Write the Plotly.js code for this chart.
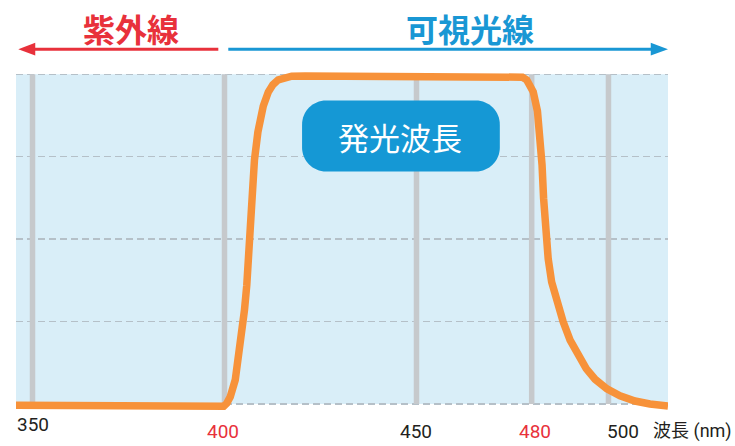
<!DOCTYPE html>
<html>
<head>
<meta charset="utf-8">
<script src="https://cdn.plot.ly/plotly-3.0.1.min.js"></script>
<style>html,body{margin:0;padding:0;background:#fff;}#chart{width:735px;height:446px;}</style>
</head>
<body>
<div id="chart"></div>
<script>
// ---- data ----
const wavelengthNm = [345.7, 367.6, 393.7, 398.9, 399.8, 400.6, 401.5, 402.8, 403.6, 404.5, 405.2, 405.8, 406.3, 406.8, 407.3, 407.8, 408.7, 410.1, 411.4, 412.6, 414.0, 415.5, 417.5, 421.0, 440.0, 460.0, 476.0, 477.6, 478.7, 479.6, 480.4, 481.5, 482.2, 482.7, 483.1, 483.6, 484.3, 485.2, 486.5, 488.2, 490.0, 492.1, 494.2, 496.5, 499.6, 503.0, 506.9, 510.8, 515.5];
const intensity    = [-0.4, -0.6, -0.9, -0.9, -0.7, 0.2, 2.2, 7.3, 13.4, 21.4, 28.5, 36.0, 46.0, 57.0, 66.5, 74.0, 82.5, 90.4, 94.6, 96.8, 98.3, 99.0, 99.4, 99.5, 99.5, 99.5, 99.5, 99.1, 98.3, 96.8, 94.7, 88.8, 80.6, 72.5, 62.4, 52.3, 44.0, 37.0, 31.0, 24.9, 19.4, 14.4, 10.7, 7.5, 4.6, 2.5, 0.9, 0.0, -0.6];
const gridWavelengths = [350, 400, 450, 480, 500];
const tickLabels = ['350', '400', '450', '480', '500'];
const highlightedTicks = ['400', '480'];
const levelTicks = [0, 25, 50, 75, 100];
const uvLabel = '紫外線';
const visibleLabel = '可視光線';
const badgeLabel = '発光波長';
const axisLabel = '波長 (nm)';

// ---- styles ----
const RED = '#e8313b', BLUE = '#1997d4', ORANGE = '#f7923a';
const CJK = '"Noto Sans CJK JP", sans-serif';
const LAT = 'Roboto, "Noto Sans CJK JP", sans-serif';
const xRange = [345.7, 515.5], yRange = [-3.033, 102.5];

const shapes = [];
// light blue background band
shapes.push({type:'rect', xref:'paper', yref:'y', x0:0, x1:1, y0:0, y1:100,
  fillcolor:'#d9eef8', line:{width:0}, layer:'below'});
// vertical gray lines
gridWavelengths.forEach(w => shapes.push({type:'line', xref:'x', yref:'y', x0:w, x1:w, y0:0, y1:100,
  line:{color:'#c6c9cc', width:5.5}, layer:'between'}));
// arrows (paper coords)
shapes.push({type:'line', xref:'paper', yref:'paper', x0:0.026, x1:0.3103, y0:1.0483, y1:1.0483, line:{color:RED, width:3}});
shapes.push({type:'path', xref:'paper', yref:'paper', path:'M0.0035,1.0483 L0.0295,1.0665 L0.0295,1.0301 Z', fillcolor:RED, line:{width:0}});
shapes.push({type:'line', xref:'paper', yref:'paper', x0:0.3256, x1:0.976, y0:1.048, y1:1.048, line:{color:BLUE, width:3}});
shapes.push({type:'path', xref:'paper', yref:'paper', path:'M1.0,1.048 L0.9735,1.0665 L0.9735,1.0301 Z', fillcolor:BLUE, line:{width:0}});
// rounded badge
(function(){
  const x0=420.2, x1=471.7, y0=70.5, y1=92.0, rx=6.25, ry=7.28, k=0.4477;
  const p = `M${x0+rx},${y1} L${x1-rx},${y1} C${x1-rx*k},${y1} ${x1},${y1-ry*k} ${x1},${y1-ry} `+
            `L${x1},${y0+ry} C${x1},${y0+ry*k} ${x1-rx*k},${y0} ${x1-rx},${y0} `+
            `L${x0+rx},${y0} C${x0+rx*k},${y0} ${x0},${y0+ry*k} ${x0},${y0+ry} `+
            `L${x0},${y1-ry} C${x0},${y1-ry*k} ${x0+rx*k},${y1} ${x0+rx},${y1} Z`;
  shapes.push({type:'path', xref:'x', yref:'y', path:p, fillcolor:'#1598d5', line:{width:0}, layer:'above'});
})();

const annotations = [];
annotations.push({xref:'paper', yref:'paper', x:0.1771, y:1.1106, text:uvLabel, showarrow:false,
  xanchor:'center', yanchor:'middle', font:{family:CJK, size:32, weight:'bold', color:RED}});
annotations.push({xref:'paper', yref:'paper', x:0.6963, y:1.1106, text:visibleLabel, showarrow:false,
  xanchor:'center', yanchor:'middle', font:{family:CJK, size:32, weight:'bold', color:BLUE}});
annotations.push({xref:'x', yref:'y', x:445.8, y:81.2, text:badgeLabel, showarrow:false,
  xanchor:'center', yanchor:'middle', font:{family:CJK, size:31, color:'#ffffff'}});
tickLabels.forEach((t, i) => {
  const first = i === 0;
  const shift = t === '500' ? 15 : (t === '400' ? -2 : (t === '480' ? 3 : 0));
  annotations.push({xref:'x', yref:'paper', x:gridWavelengths[i], y: first ? -0.0302 : -0.0517,
    xshift:shift, text:t, showarrow:false, xanchor:'center', yanchor:'middle',
    font:{family:LAT, size:19, color: highlightedTicks.includes(t) ? RED : '#231f20'}});
});
annotations.push({xref:'paper', yref:'paper', x:1.1005, y:-0.049, text:axisLabel, showarrow:false,
  xanchor:'right', yanchor:'middle', font:{family:LAT, size:18, color:'#231f20'}});

const trace = {x:wavelengthNm, y:intensity, type:'scatter', mode:'lines',
  line:{color:ORANGE, width:7.5, shape:'linear'}, hoverinfo:'skip'};

const layout = {
  width:735, height:446,
  margin:{l:16, r:67, t:66, b:32, pad:0},
  paper_bgcolor:'#ffffff', plot_bgcolor:'rgba(0,0,0,0)',
  showlegend:false,
  xaxis:{range:xRange, showgrid:false, zeroline:false, showline:false, showticklabels:false, ticks:'', fixedrange:true},
  yaxis:{range:yRange, tickmode:'array', tickvals:levelTicks, showgrid:true, gridcolor:'#b5c0c8', gridwidth:1.3,
    griddash:'7px,4px', zeroline:false, showline:false, showticklabels:false, ticks:'', fixedrange:true},
  shapes:shapes, annotations:annotations
};
Plotly.newPlot('chart', [trace], layout, {displayModeBar:false, staticPlot:true});
</script>
</body>
</html>
